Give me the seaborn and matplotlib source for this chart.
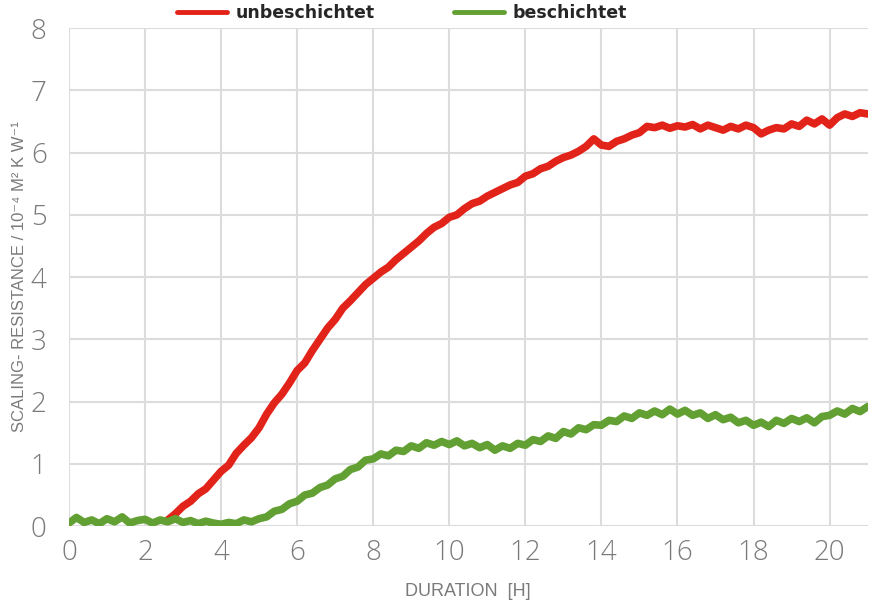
import numpy as np
import pandas as pd
import seaborn as sns
from matplotlib import pyplot as plt

# sampling grid (hours)
hours_green = np.round(np.arange(0, 21.01, 0.2), 1)
hours_red = np.round(np.arange(2.6, 21.01, 0.2), 1)

# beschichtet (coated)
green_vals = [
    0.05, 0.14, 0.06, 0.10, 0.04, 0.12, 0.07, 0.15, 0.05, 0.09,
    0.11, 0.05, 0.10, 0.07, 0.12, 0.06, 0.09, 0.04, 0.08, 0.05,
    0.03, 0.06, 0.04, 0.10, 0.07, 0.12, 0.15, 0.24, 0.27, 0.36,
    0.40, 0.50, 0.53, 0.62, 0.66, 0.76, 0.80, 0.91, 0.95, 1.06,
    1.08, 1.16, 1.13, 1.22, 1.20, 1.29, 1.25, 1.34, 1.30, 1.36,
    1.31, 1.37, 1.29, 1.33, 1.26, 1.31, 1.22, 1.29, 1.25, 1.33,
    1.30, 1.39, 1.36, 1.45, 1.41, 1.52, 1.48, 1.58, 1.55, 1.63,
    1.62, 1.70, 1.68, 1.77, 1.73, 1.82, 1.78, 1.85, 1.79, 1.88,
    1.80, 1.86, 1.78, 1.82, 1.73, 1.79, 1.71, 1.75, 1.66, 1.70,
    1.62, 1.67, 1.60, 1.70, 1.65, 1.73, 1.68, 1.74, 1.66, 1.76,
    1.78, 1.85, 1.80, 1.89, 1.84, 1.92,
]

# unbeschichtet (uncoated)
red_vals = [
    0.10, 0.20, 0.32, 0.40, 0.52, 0.60, 0.74, 0.88, 0.98, 1.17,
    1.30, 1.42, 1.58, 1.80, 1.98, 2.12, 2.30, 2.50, 2.62, 2.82,
    3.00, 3.18, 3.32, 3.50, 3.62, 3.75, 3.88, 3.98, 4.08, 4.16,
    4.28, 4.38, 4.48, 4.58, 4.70, 4.80, 4.86, 4.96, 5.00, 5.10,
    5.18, 5.22, 5.30, 5.36, 5.42, 5.48, 5.52, 5.62, 5.66, 5.74,
    5.78, 5.86, 5.92, 5.96, 6.02, 6.10, 6.22, 6.12, 6.10, 6.18,
    6.22, 6.28, 6.32, 6.42, 6.40, 6.44, 6.39, 6.43, 6.41, 6.45,
    6.38, 6.44, 6.40, 6.36, 6.42, 6.38, 6.44, 6.40, 6.30, 6.36,
    6.40, 6.38, 6.46, 6.42, 6.52, 6.46, 6.54, 6.44, 6.56, 6.62,
    6.58, 6.64, 6.62,
]

red_color = '#e2231a'
green_color = '#62a033'
text_gray = '#7a7a7a'

sns.set_style('white')
fig, ax = plt.subplots(figsize=(8.72, 6.09), dpi=100)
fig.subplots_adjust(left=0.079, right=0.995, top=0.954, bottom=0.136)

sns.lineplot(x=hours_red, y=red_vals, color=red_color, lw=5.5, label='unbeschichtet', ax=ax)
sns.lineplot(x=hours_green, y=green_vals, color=green_color, lw=5.5, label='beschichtet', ax=ax)

ax.set_xlim(0, 21)
ax.set_ylim(0, 8)
ax.set_xticks(range(0, 21, 2))
ax.set_yticks(range(0, 9))
ax.grid(True, color='#dcdcdc', lw=1.5)
ax.set_axisbelow(True)
for s in ax.spines.values():
    s.set_visible(False)
ax.tick_params(axis='both', length=0, labelsize=20, colors=text_gray)
ax.tick_params(axis='x', pad=9)
ax.tick_params(axis='y', pad=16)
for lab in ax.get_xticklabels() + ax.get_yticklabels():
    lab.set_family(['Open Sans', 'DejaVu Sans'])
    lab.set_fontweight('light')

ax.set_xlabel('DURATION  [H]', fontsize=13, color=text_gray, labelpad=12,
              family=['Liberation Sans', 'DejaVu Sans'])
ax.set_ylabel('SCALING- RESISTANCE / 10⁻⁴ M² K W⁻¹', fontsize=12, color=text_gray, labelpad=3,
              family=['Liberation Sans', 'DejaVu Sans'])

ax.get_legend().remove()
handles, labels = ax.get_legend_handles_labels()
leg = fig.legend(handles, labels, loc='upper left', bbox_to_anchor=(177 / 872, 1 - 4 / 609), ncol=2,
                 frameon=False, borderpad=0, borderaxespad=0, handlelength=2.9,
                 handletextpad=0.45, columnspacing=4.6,
                 prop={'weight': 'bold', 'size': 12.5})
for h in leg.get_lines():
    h.set_linewidth(3.5)

fig.savefig('out.png', dpi=100)
